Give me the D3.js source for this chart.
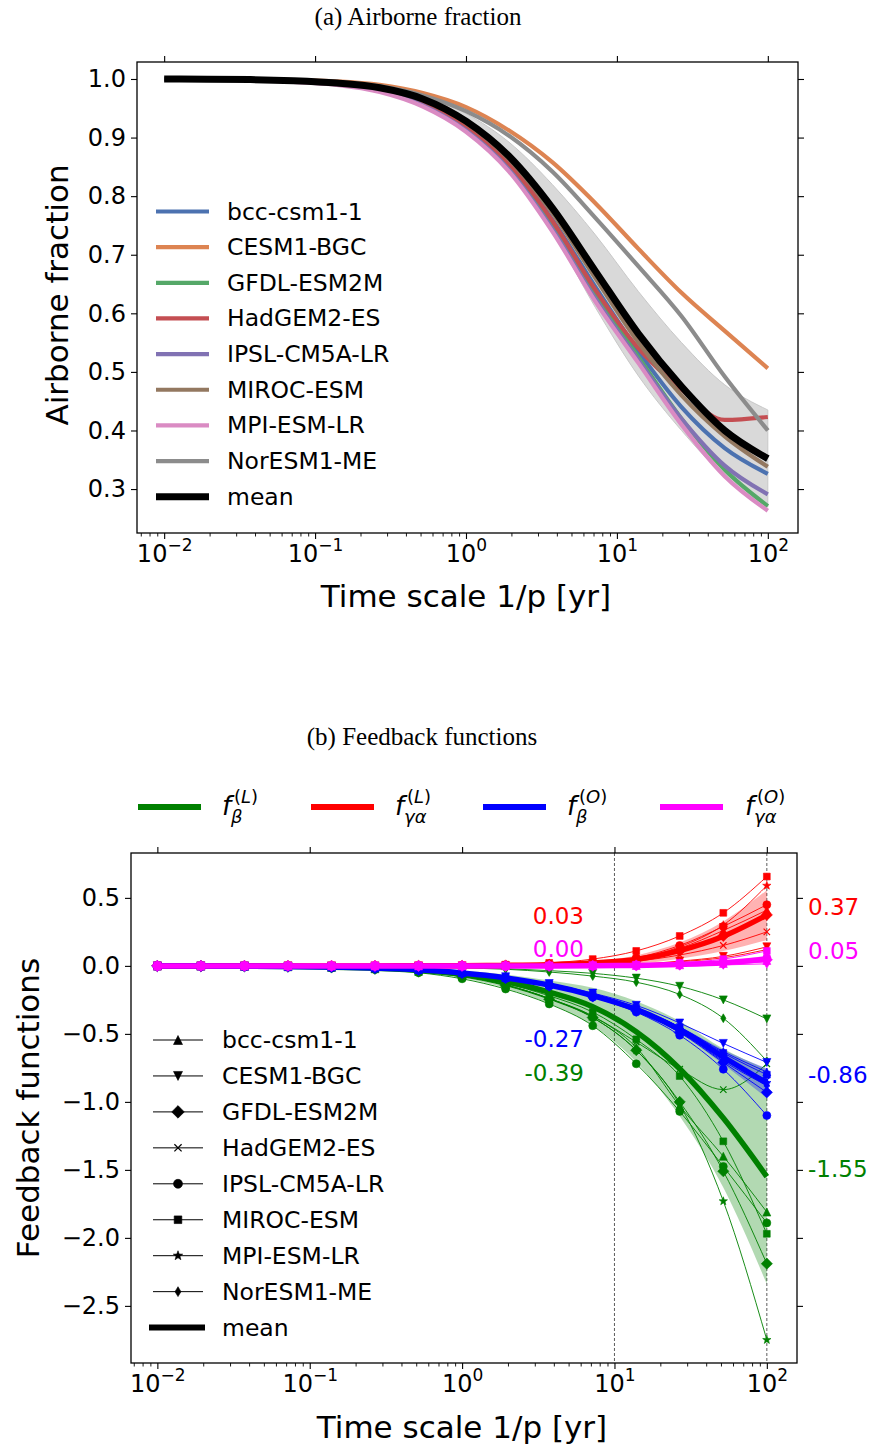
<!DOCTYPE html>
<html><head><meta charset="utf-8">
<script src="https://cdn.jsdelivr.net/npm/d3@7"></script>
<style>body{margin:0;background:#fff;} svg text{font-family:"DejaVu Sans";}</style>
</head><body><svg id="c" width="879" height="1447"></svg>
<script>
// ---------------- DATA ----------------
const tGrid = [0.01, 0.0193, 0.0373, 0.0720, 0.139, 0.268, 0.518, 1.0, 1.93, 3.73, 7.20, 13.9, 26.8, 51.8, 100];
const models = ["bcc-csm1-1","CESM1-BGC","GFDL-ESM2M","HadGEM2-ES","IPSL-CM5A-LR","MIROC-ESM","MPI-ESM-LR","NorESM1-ME"];
const afColors = ["#4c72b0","#dd8452","#55a868","#c44e52","#8172b3","#937860","#da8bc3","#8c8c8c"];
const markerTypes = ["^","v","D","x","o","s","*","d"];

// (a) airborne fraction
const afBcc   = [1.0,.9995,.999,.996,.992,.982,.960,.920,.855,.760,.645,.535,.440,.370,.326];
const afCesm  = [1.0,1.0,.9995,.998,.996,.990,.976,.952,.912,.858,.788,.710,.635,.570,.506];
const afGfdl  = [1.0,.9995,.998,.996,.991,.980,.957,.916,.850,.750,.632,.525,.420,.333,.271];
const afHad   = [1.0,.9995,.999,.996,.992,.982,.960,.920,.855,.758,.640,.540,.470,.418,.423];
const afIpsl  = [1.0,.9995,.998,.996,.991,.979,.955,.912,.845,.744,.625,.520,.420,.340,.291];
const afMiroc = [1.0,.9995,.999,.997,.993,.984,.964,.925,.863,.772,.660,.550,.460,.390,.338];
const afMpi   = [1.0,.9995,.998,.995,.990,.978,.953,.910,.842,.740,.620,.515,.410,.322,.263];
const afNor   = [1.0,1.0,.9995,.998,.995,.988,.972,.945,.903,.842,.763,.680,.595,.492,.400];
const afMean  = [1.0,.9995,.999,.997,.993,.985,.966,.928,.868,.780,.672,.565,.475,.400,.352];
const afStd   = [0,.0002,.0005,.001,.002,.004,.007,.013,.024,.040,.062,.072,.075,.078,.083];
const afYTicks = [0.3,0.4,0.5,0.6,0.7,0.8,0.9,1.0];

// (b) feedback functions, one row per model (same order as models)
const fBetaL = [
 [-0.0008,-0.0016,-0.003,-0.006,-0.011,-0.021,-0.040,-0.075,-0.14,-0.24,-0.37,-0.60,-1.03,-1.40,-1.81],
 [-0.0001,-0.0002,-0.0004,-0.0008,-0.0015,-0.003,-0.005,-0.010,-0.02,-0.035,-0.055,-0.09,-0.15,-0.25,-0.39],
 [-0.0009,-0.0017,-0.003,-0.006,-0.012,-0.022,-0.042,-0.080,-0.145,-0.245,-0.38,-0.62,-1.00,-1.51,-2.19],
 [-0.0008,-0.0016,-0.003,-0.006,-0.011,-0.021,-0.040,-0.075,-0.14,-0.24,-0.37,-0.56,-0.76,-0.91,-0.72],
 [-0.001,-0.002,-0.004,-0.007,-0.014,-0.026,-0.050,-0.095,-0.17,-0.28,-0.44,-0.72,-1.07,-1.475,-1.89],
 [-0.0007,-0.0014,-0.003,-0.005,-0.010,-0.019,-0.037,-0.070,-0.13,-0.22,-0.34,-0.54,-0.81,-1.29,-1.97],
 [-0.0008,-0.0016,-0.003,-0.006,-0.011,-0.021,-0.040,-0.075,-0.14,-0.24,-0.38,-0.62,-1.02,-1.73,-2.75],
 [-0.0002,-0.0003,-0.0006,-0.001,-0.002,-0.004,-0.008,-0.015,-0.025,-0.045,-0.075,-0.12,-0.21,-0.385,-0.70]];
const fBetaLMean = [-0.0006,-0.0012,-0.0023,-0.0047,-0.009,-0.017,-0.033,-0.062,-0.114,-0.193,-0.30,-0.484,-0.756,-1.119,-1.55];
const fBetaLStd  = [0.0003,0.0006,0.001,0.002,0.004,0.007,0.014,0.028,0.05,0.085,0.139,0.224,0.349,0.51,0.79];

const fGammaL = [
 [0,0,0,0,0,0,0.0005,0.0015,0.004,0.010,0.025,0.050,0.13,0.26,0.41],
 [0,0,0,0,0,0,0.0001,0.0003,0.001,0.002,0.006,0.012,0.035,0.07,0.14],
 [0,0,0,0,0,0,0.0004,0.0010,0.003,0.008,0.020,0.042,0.11,0.22,0.375],
 [0,0,0,0,0,0,0.0003,0.0010,0.002,0.006,0.016,0.035,0.08,0.15,0.25],
 [0,0,0,0,0,0,0.0005,0.0015,0.005,0.012,0.030,0.060,0.15,0.29,0.45],
 [0,0,0,0,0,0,0.0010,0.0030,0.009,0.022,0.050,0.110,0.22,0.39,0.657],
 [0,0,0,0,0,0,0.0005,0.0015,0.004,0.011,0.027,0.055,0.14,0.30,0.59],
 [0,0,0,0,0,0,0.0001,0.0002,0.001,0.002,0.005,0.010,0.03,0.06,0.12]];
const fGammaLMean = [0,0,0,0,0,0,0.0004,0.0013,0.0036,0.009,0.022,0.047,0.112,0.2175,0.374];
const fGammaLStd  = [0,0,0,0,0,0,0.0003,0.001,0.0025,0.006,0.014,0.03,0.059,0.109,0.183];

const fBetaO = [
 [-0.0008,-0.0015,-0.0027,-0.005,-0.009,-0.016,-0.028,-0.050,-0.085,-0.135,-0.21,-0.31,-0.45,-0.63,-0.78],
 [-0.0008,-0.0014,-0.0026,-0.005,-0.009,-0.015,-0.027,-0.048,-0.080,-0.130,-0.20,-0.29,-0.42,-0.57,-0.71],
 [-0.0009,-0.0016,-0.0029,-0.005,-0.009,-0.017,-0.030,-0.053,-0.090,-0.145,-0.225,-0.33,-0.49,-0.71,-0.93],
 [-0.0009,-0.0016,-0.0029,-0.005,-0.009,-0.017,-0.030,-0.053,-0.090,-0.145,-0.225,-0.33,-0.48,-0.67,-0.84],
 [-0.0009,-0.0017,-0.003,-0.0055,-0.010,-0.017,-0.031,-0.055,-0.093,-0.150,-0.23,-0.34,-0.51,-0.76,-1.10],
 [-0.0008,-0.0015,-0.0027,-0.005,-0.009,-0.016,-0.028,-0.050,-0.085,-0.135,-0.21,-0.31,-0.45,-0.64,-0.80],
 [-0.0008,-0.0015,-0.0028,-0.005,-0.009,-0.016,-0.029,-0.052,-0.088,-0.140,-0.22,-0.32,-0.47,-0.68,-0.86],
 [-0.0009,-0.0016,-0.0029,-0.005,-0.009,-0.017,-0.030,-0.053,-0.090,-0.145,-0.225,-0.33,-0.48,-0.70,-0.88]];
const fBetaOMean = [-0.0009,-0.0016,-0.0028,-0.005,-0.009,-0.016,-0.029,-0.052,-0.088,-0.141,-0.218,-0.32,-0.469,-0.67,-0.8625];
const fBetaOStd  = [0,0,0.0001,0.0002,0.0003,0.0006,0.001,0.002,0.004,0.006,0.01,0.015,0.026,0.054,0.109];

const fGammaO = [
 [0,0,0,0,0,0,0,0,0,0,0.001,0.003,0.008,0.018,0.040],
 [0,0,0,0,0,0,0,0,0,0,0.001,0.002,0.006,0.013,0.030],
 [0,0,0,0,0,0,0,0,0,0,0.001,0.003,0.009,0.020,0.045],
 [0,0,0,0,0,0,0,0,0,0,0.001,0.004,0.010,0.022,0.050],
 [0,0,0,0,0,0,0,0,0,0,0.001,0.004,0.012,0.027,0.060],
 [0,0,0,0,0,0,0,0,0,0,0.002,0.008,0.022,0.050,0.110],
 [0,0,0,0,0,0,0,0,0,0,0.001,0.004,0.010,0.022,0.050],
 [0,0,0,0,0,0,0,0,0,0,0.0005,0.001,0.003,0.007,0.015]];
const fGammaOMean = [0,0,0,0,0,0,0,0,0,0,0.0011,0.0036,0.010,0.0224,0.050];
const fGammaOStd  = [0,0,0,0,0,0,0,0,0,0,0.0004,0.002,0.005,0.012,0.026];

const fbYTicks = [0.5,0.0,-0.5,-1.0,-1.5,-2.0,-2.5];
const groupColors = ["#008000","#ff0000","#0000ff","#ff00ff"];
const groupSup = ["(L)","(L)","(O)","(O)"];
const groupSub = ["\u03b2","\u03b3\u03b1","\u03b2","\u03b3\u03b1"];
const labelsAt10  = ["-0.39","0.03","-0.27","0.00"];
const labelsAt100 = ["-1.55","0.37","-0.86","0.05"];
const labelsAt10Y = [-0.85, 0.305, -0.60, 0.0625]; // anchor heights (data units)

// ---------------- DRAW ----------------
const svg = d3.select("#c");
const TICK_FS = 24, LAB_FS = 31, LEG_FS = 23.5;

function markerPath(type, s){
  const r = s/2;
  switch(type){
    case "^": return `M0,${-r}L${r},${r}L${-r},${r}Z`;
    case "v": return `M0,${r}L${r},${-r}L${-r},${-r}Z`;
    case "D": {const q=r*1.4; return `M0,${-q}L${q},0L0,${q}L${-q},0Z`;}
    case "d": {const q=r*1.1; return `M0,${-q}L${q*0.6},0L0,${q}L${-q*0.6},0Z`;}
    case "x": return `M${-r*0.8},${-r*0.8}L${r*0.8},${r*0.8}M${-r*0.8},${r*0.8}L${r*0.8},${-r*0.8}`;
    case "o": return d3.symbol(d3.symbolCircle, Math.PI*r*r)();
    case "s": {const q=r*0.85; return `M${-q},${-q}H${q}V${q}H${-q}Z`;}
    case "*": {let p=""; for(let k=0;k<10;k++){const rr=k%2?r*0.45:r*1.1; const a=-Math.PI/2+k*Math.PI/5; p+=(k?"L":"M")+(rr*Math.cos(a)).toFixed(2)+","+(rr*Math.sin(a)).toFixed(2);} return p+"Z";}
  }
}
function drawMarker(g, type, x, y, s, color){
  const p = g.append("path").attr("d", markerPath(type, s)).attr("transform", `translate(${x},${y})`);
  if(type==="x") p.attr("fill","none").attr("stroke",color).attr("stroke-width",1.2);
  else p.attr("fill",color).attr("stroke",color).attr("stroke-width",0.6);
}

function drawAxes(g, x, y, yTicks, yFmt){
  const [x0,x1] = x.range(), [y0,y1] = y.range(); // y0 bottom, y1 top
  const major = [1e-2,1e-1,1,10,100];
  const minor = [];
  for(let e=-3;e<=2;e++) for(let m=2;m<=9;m++){const v=m*Math.pow(10,e); if(v>=x.domain()[0] && v<=x.domain()[1]) minor.push(v);}
  const style = a => { a.attr("font-size",null).attr("font-family",null); a.select(".domain").remove();
    a.selectAll(".tick line").attr("stroke","#000").attr("stroke-width",1.1); };
  const bx = g.append("g").attr("transform",`translate(0,${y0})`)
    .call(d3.axisBottom(x).tickValues(major).tickSize(6).tickPadding(6).tickFormat(()=>""));
  style(bx);
  bx.selectAll(".tick text").attr("font-size",TICK_FS).attr("fill","#000").each(function(d){
    const e = Math.round(Math.log10(d)); const t = d3.select(this);
    t.append("tspan").text("10");
    t.append("tspan").attr("dy",-11).attr("font-size",17).text(e<0 ? "\u2212"+(-e) : ""+e);
  });
  const bm = g.append("g").attr("transform",`translate(0,${y0})`)
    .call(d3.axisBottom(x).tickValues(minor).tickSize(3.5).tickFormat(()=>""));
  style(bm); bm.selectAll(".tick line").attr("stroke-width",0.9);
  const tx = g.append("g").attr("transform",`translate(0,${y1})`)
    .call(d3.axisTop(x).tickValues(major).tickSize(6).tickFormat(()=>""));
  style(tx);
  const ly = g.append("g").attr("transform",`translate(${x0},0)`)
    .call(d3.axisLeft(y).tickValues(yTicks).tickSize(6).tickPadding(5).tickFormat(yFmt));
  style(ly);
  ly.selectAll(".tick text").attr("font-size",TICK_FS).attr("fill","#000");
  const ry = g.append("g").attr("transform",`translate(${x1},0)`)
    .call(d3.axisRight(y).tickValues(yTicks).tickSize(6).tickFormat(()=>""));
  style(ry);
  g.append("rect").attr("x",x0).attr("y",y1).attr("width",x1-x0).attr("height",y0-y1)
    .attr("fill","none").attr("stroke","#000").attr("stroke-width",1.3);
}
const fmtMinus = d => d3.format(".1f")(d).replace("-","\u2212");

// ===== (a) Airborne fraction =====
const xA = d3.scaleLog().domain([Math.pow(10,-2.18), Math.pow(10,2.2)]).range([137, 798]);
const yA = d3.scaleLinear().domain([0.225, 1.029]).range([533, 62]);
const gA = svg.append("g");
svg.append("text").attr("x",418).attr("y",25).attr("text-anchor","middle")
  .style("font-family","Liberation Serif").attr("font-size",25).text("(a) Airborne fraction");

const afSeries = [afBcc, afCesm, afGfdl, afHad, afIpsl, afMiroc, afMpi, afNor];
const lineA = d3.line().x((d,i)=>xA(tGrid[i])).y(d=>yA(d)).curve(d3.curveMonotoneX);
const areaA = d3.area().x((d,i)=>xA(tGrid[i])).y0((d,i)=>yA(afMean[i]-afStd[i])).y1((d,i)=>yA(afMean[i]+afStd[i])).curve(d3.curveMonotoneX);
gA.append("path").attr("d", areaA(afMean)).attr("fill","#d9d9d9").attr("stroke","#c8c8c8").attr("stroke-width",1);
afSeries.forEach((s,k)=> gA.append("path").attr("d", lineA(s)).attr("fill","none").attr("stroke",afColors[k]).attr("stroke-width",4.2));
gA.append("path").attr("d", lineA(afMean)).attr("fill","none").attr("stroke","#000").attr("stroke-width",7);
drawAxes(gA, xA, yA, afYTicks, d3.format(".1f"));
svg.append("text").attr("transform","translate(57,295) rotate(-90)").attr("text-anchor","middle")
  .attr("dominant-baseline","central").attr("font-size",LAB_FS).text("Airborne fraction");
svg.append("text").attr("x",466).attr("y",607).attr("text-anchor","middle").attr("font-size",LAB_FS).text("Time scale 1/p [yr]");
const legA = svg.append("g");
models.concat(["mean"]).forEach((m,k)=>{
  const yy = 211.5 + k*35.65;
  legA.append("line").attr("x1",156).attr("x2",209).attr("y1",yy).attr("y2",yy)
    .attr("stroke", k<8 ? afColors[k] : "#000").attr("stroke-width", k<8 ? 4.2 : 7);
  legA.append("text").attr("x",227).attr("y",yy).attr("dominant-baseline","central").attr("font-size",LEG_FS).text(m);
});

// ===== (b) Feedback functions =====
const xB = d3.scaleLog().domain([Math.pow(10,-2.173), Math.pow(10,2.198)]).range([131, 797]);
const yB = d3.scaleLinear().domain([-2.92, 0.83]).range([1363, 853]);
const gB = svg.append("g");
svg.append("text").attr("x",422).attr("y",745).attr("text-anchor","middle")
  .style("font-family","Liberation Serif").attr("font-size",25).text("(b) Feedback functions");

svg.append("clipPath").attr("id","clipB").append("rect")
  .attr("x",131).attr("y",853).attr("width",666).attr("height",510);
const plotB = gB.append("g").attr("clip-path","url(#clipB)");
[10,100].forEach(v=> plotB.append("line").attr("x1",xB(v)).attr("x2",xB(v)).attr("y1",853).attr("y2",1363)
  .attr("stroke","#333").attr("stroke-width",0.8).attr("stroke-dasharray","3,2"));

const groups = [
  {vals:fBetaL, mean:fBetaLMean, std:fBetaLStd},
  {vals:fGammaL, mean:fGammaLMean, std:fGammaLStd},
  {vals:fBetaO, mean:fBetaOMean, std:fBetaOStd},
  {vals:fGammaO, mean:fGammaOMean, std:fGammaOStd}];
const lineB = d3.line().x((d,i)=>xB(tGrid[i])).y(d=>yB(d)).curve(d3.curveMonotoneX);
groups.forEach((G,gi)=>{
  const col = groupColors[gi];
  const area = d3.area().x((d,i)=>xB(tGrid[i])).y0((d,i)=>yB(G.mean[i]-G.std[i])).y1((d,i)=>yB(G.mean[i]+G.std[i])).curve(d3.curveMonotoneX);
  plotB.append("path").attr("d", area(G.mean)).attr("fill",col).attr("fill-opacity",0.3).attr("stroke","none");
  G.vals.forEach((row,k)=>{
    plotB.append("path").attr("d", lineB(row)).attr("fill","none").attr("stroke",col).attr("stroke-width",0.9);
    row.forEach((v,i)=> drawMarker(plotB, markerTypes[k], xB(tGrid[i]), yB(v), 8, col));
  });
  plotB.append("path").attr("d", lineB(G.mean)).attr("fill","none").attr("stroke",col).attr("stroke-width",5.5);
});
drawAxes(gB, xB, yB, fbYTicks, fmtMinus);
groups.forEach((G,gi)=>{
  svg.append("text").attr("x",584).attr("y",yB(labelsAt10Y[gi])).attr("text-anchor","end")
    .attr("fill",groupColors[gi]).attr("font-size",23).text(labelsAt10[gi]);
  svg.append("text").attr("x",808).attr("y",yB(G.mean[14])).attr("text-anchor","start")
    .attr("fill",groupColors[gi]).attr("font-size",23).text(labelsAt100[gi]);
});
svg.append("text").attr("transform","translate(28,1108) rotate(-90)").attr("text-anchor","middle")
  .attr("dominant-baseline","central").attr("font-size",LAB_FS).text("Feedback functions");
svg.append("text").attr("x",462).attr("y",1438).attr("text-anchor","middle").attr("font-size",LAB_FS).text("Time scale 1/p [yr]");

const legT = svg.append("g");
const legTX = [138, 311, 483, 660];
const legTLab = [222, 395, 567, 745];
groups.forEach((G,gi)=>{
  legT.append("line").attr("x1",legTX[gi]).attr("x2",legTX[gi]+63).attr("y1",807).attr("y2",807)
    .attr("stroke",groupColors[gi]).attr("stroke-width",6);
  const lx = legTLab[gi];
  legT.append("text").attr("x",lx).attr("y",815).attr("font-size",26).attr("font-style","italic").text("f");
  const sup = legT.append("text").attr("x",lx+12).attr("y",803).attr("font-size",18);
  sup.append("tspan").text("(");
  sup.append("tspan").attr("font-style","italic").text(groupSup[gi].slice(1,2));
  sup.append("tspan").text(")");
  legT.append("text").attr("x",lx+9).attr("y",823).attr("font-size",18).attr("font-style","italic").text(groupSub[gi]);
});

const legB = svg.append("g");
models.concat(["mean"]).forEach((m,k)=>{
  const yy = 1040 + k*35.95;
  if(k<8){
    legB.append("line").attr("x1",153).attr("x2",203).attr("y1",yy).attr("y2",yy).attr("stroke","#000").attr("stroke-width",1);
    drawMarker(legB, markerTypes[k], 178, yy, 9, "#000");
  } else {
    legB.append("line").attr("x1",149).attr("x2",205).attr("y1",yy).attr("y2",yy).attr("stroke","#000").attr("stroke-width",6);
  }
  legB.append("text").attr("x",222).attr("y",yy).attr("dominant-baseline","central").attr("font-size",LEG_FS).text(m);
});
</script></body></html>
